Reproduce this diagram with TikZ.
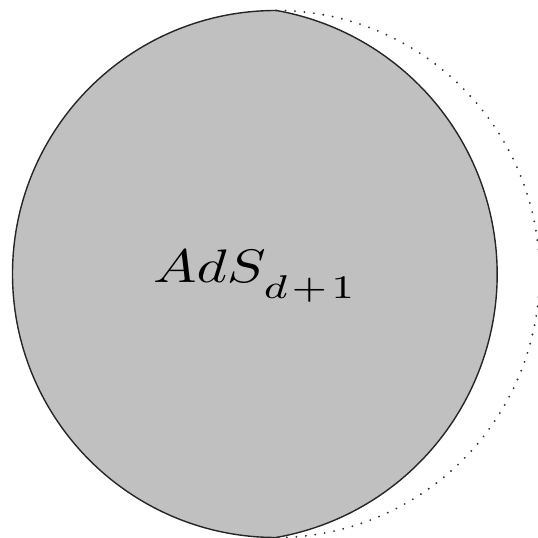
\documentclass[tikz,border=0pt]{standalone}
\usepackage{graphicx}
\definecolor{adsgray}{RGB}{192,192,192}
\tikzset{
  region/.style={fill=adsgray, draw=black!85, line width=1.4pt},
  bdry/.style={draw=black!80, line width=2.1pt, line cap=round, dash pattern=on 0pt off 9.5pt}
}
\begin{document}
\begin{tikzpicture}[x=1pt,y=1pt]
\useasboundingbox (0,0) rectangle (538,538);
\coordinate (top) at (276,527.5);
% gray region: left half of the circle, closed on the right by a flatter arc
\path[region] (top) arc[start angle=90,end angle=270,radius=263.5]
  arc[start angle=-80,end angle=80,radius=267.6] -- cycle;
% dotted right half of the circle
\path[bdry] (top) arc[start angle=90,end angle=-90,radius=263.5];
\node[anchor=base west, inner sep=0pt] (label) at (153,255)
  {\scalebox{5.8}[4.7]{$AdS$\kern-0.4pt\raisebox{-3.3pt}{$\scriptstyle d\mskip1.5mu{+}\mskip1.5mu1$}}};
\end{tikzpicture}
\end{document}
